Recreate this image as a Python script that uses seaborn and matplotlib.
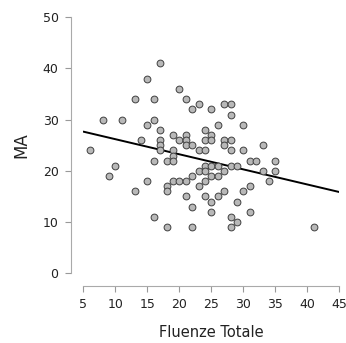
import matplotlib
matplotlib.use("Agg")
import matplotlib.pyplot as plt
import numpy as np
import pandas as pd
import seaborn as sns

# Valori (Fluenze Totale, MA)
fluenze = [6, 8, 9, 10, 11,
           13, 13, 14, 15, 15, 15,
           16, 16, 16, 16,
           17, 17, 17, 17, 17,
           18, 18, 18, 18,
           19, 19, 19, 19, 19,
           20, 20, 20,
           21, 21, 21, 21, 21, 21,
           22, 22, 22, 22, 22,
           23, 23, 23, 23,
           24, 24, 24, 24, 24, 24, 24,
           25, 25, 25, 25, 25, 25, 25,
           26, 26, 26, 26,
           27, 27, 27, 27, 27,
           28, 28, 28, 28, 28, 28, 28,
           29, 29, 29,
           30, 30, 30,
           31, 31, 31,
           32, 33, 33, 34, 35, 35, 41]
ma = [24, 30, 19, 21, 30,
      34, 16, 26, 38, 29, 18,
      34, 30, 22, 11,
      41, 28, 26, 25, 24,
      22, 17, 16, 9,
      27, 24, 23, 22, 18,
      36, 26, 18,
      34, 27, 26, 25, 18, 15,
      32, 25, 19, 13, 9,
      33, 24, 20, 17,
      28, 26, 24, 21, 20, 18, 15,
      32, 27, 26, 21, 19, 14, 12,
      29, 21, 19, 15,
      33, 26, 25, 20, 16,
      33, 31, 26, 24, 21, 11, 9,
      21, 14, 10,
      29, 24, 16,
      22, 17, 12,
      22, 25, 20, 18, 22, 20, 9]

x_ticks = [5, 10, 15, 20, 25, 30, 35, 40, 45]
y_ticks = [0, 10, 20, 30, 40, 50]

df = pd.DataFrame({"Fluenze Totale": fluenze, "MA": ma})

sns.set_style("ticks")
plt.rcParams['font.family'] = ['DejaVu Sans']

fig = plt.figure(figsize=(3.46, 3.43), dpi=100)
ax = fig.add_axes([0.2408, 0.2032, 0.7399, 0.7464])
ax.set_xlim(5, 45)
ax.set_ylim(0, 50)

sns.regplot(data=df, x="Fluenze Totale", y="MA", ci=None, truncate=False, ax=ax,
            scatter_kws=dict(s=24, color="#b8b8b8", edgecolor="#404040", linewidths=0.7,
                             alpha=1, clip_on=False, zorder=3),
            line_kws=dict(color="black", lw=1.4, zorder=2))

ax.set_xticks(x_ticks)
ax.set_yticks(y_ticks)
ax.set_xlim(5, 45)
ax.set_ylim(0, 50)
ax.set_xlabel("Fluenze Totale", fontsize=10.5, color="#222222", labelpad=10)
ax.set_ylabel("MA", fontsize=12, color="#222222", labelpad=9)
ax.tick_params(axis="both", direction="out", length=4.6, width=0.8, color="#999999",
               labelsize=9, labelcolor="#222222", pad=4.2, bottom=True, left=True)
sns.despine(ax=ax, offset=dict(left=9, bottom=9))
ax.spines["left"].set_bounds(0, 50)
ax.spines["bottom"].set_bounds(5, 45)
for side in ["left", "bottom"]:
    ax.spines[side].set_color("#aaaaaa")
    ax.spines[side].set_linewidth(0.8)

fig.savefig("out.png", dpi=100)
